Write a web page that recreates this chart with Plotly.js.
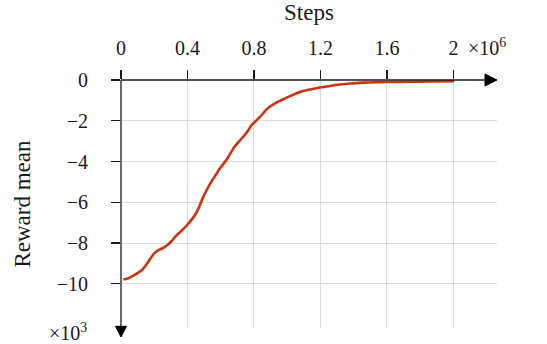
<!DOCTYPE html>
<html>
<head>
<meta charset="utf-8">
<script src="https://cdn.plot.ly/plotly-3.0.1.min.js"></script>
<style>
  html, body { margin: 0; padding: 0; background: #fff; }
  #chart { width: 547px; height: 344px; }
</style>
</head>
<body>
<div id="chart"></div>
<script>
// Training curve: mean episode reward against environment steps
const steps = [
  14000, 44000, 74000, 104000, 130000, 154000, 178000, 198000, 225000, 255000,
  281000, 305000, 331000, 365000, 395000, 425000, 451000, 471000, 491000, 515000,
  539000, 565000, 595000, 626000, 652000, 676000, 700000, 726000, 756000, 786000,
  816000, 846000, 876000, 916000, 966000, 1017000, 1077000, 1137000, 1197000, 1257000,
  1317000, 1377000, 1456000, 1530000, 1598000, 1700000, 1800000, 1900000, 2005000
];
const rewardMean = [
  -9795, -9730, -9600, -9450, -9290, -9040, -8750, -8520, -8350, -8240,
  -8090, -7900, -7650, -7400, -7140, -6850, -6550, -6220, -5810, -5410,
  -5050, -4720, -4340, -4010, -3690, -3360, -3110, -2870, -2590, -2210,
  -1970, -1720, -1440, -1200, -980, -790, -590, -470, -370, -290,
  -220, -170, -130, -110, -100, -90, -80, -70, -60
];

// Tick positions and their scaled labels
const xTickVals = [0, 400000, 800000, 1200000, 1600000, 2000000];
const xTickText = ['0', '0.4', '0.8', '1.2', '1.6', '2'];
const yTickVals = [0, -2000, -4000, -6000, -8000, -10000];
const yTickText = ['0', '\u22122', '\u22124', '\u22126', '\u22128', '\u221210'];

const FONT = '"Liberation Serif"';
const FS = 20;        // tick labels and scale factors
const FS_TITLE = 23;  // axis titles
const INK = '#1a1a1a';

const trace = {
  x: steps,
  y: rewardMean,
  type: 'scatter',
  mode: 'lines',
  line: { color: '#cc3311', width: 2.6, shape: 'spline', smoothing: 0.6 },
  hoverinfo: 'skip'
};

// Plot area spans 376 x 247.7 px; arrowheads are sized in px and converted to paper units
const W = 376, H = 247.7;
const px = v => v / W, py = v => v / H;

const layout = {
  width: 547,
  height: 344,
  margin: { l: 121, r: 50, t: 80, b: 16.3 },
  paper_bgcolor: '#fff',
  plot_bgcolor: '#fff',
  showlegend: false,
  font: { family: FONT, size: FS, color: INK },
  xaxis: {
    side: 'top',
    range: [0, 2262000],
    tickvals: xTickVals,
    ticktext: xTickText,
    tickfont: { family: FONT, size: FS, color: INK },
    ticks: 'outside',
    ticklen: 9,
    tickwidth: 1.2,
    tickcolor: INK,
    ticklabelstandoff: 7,
    showgrid: true,
    gridcolor: '#dcdcdc',
    gridwidth: 1,
    zeroline: false,
    showline: false,
    fixedrange: true,
    title: { text: 'Steps', font: { family: FONT, size: FS_TITLE, color: INK }, standoff: 11 }
  },
  yaxis: {
    range: [-12170, 0],
    tickvals: yTickVals,
    ticktext: yTickText,
    tickfont: { family: FONT, size: FS, color: INK },
    ticks: 'outside',
    ticklen: 9,
    tickwidth: 1.2,
    tickcolor: INK,
    ticklabelstandoff: 19,
    showgrid: true,
    gridcolor: '#dcdcdc',
    gridwidth: 1,
    zeroline: false,
    showline: false,
    fixedrange: true,
    title: { text: 'Reward mean', font: { family: FONT, size: FS_TITLE, color: INK }, standoff: 19 }
  },
  shapes: [
    // horizontal axis with arrowhead
    { type: 'line', xref: 'paper', yref: 'paper', x0: 0, x1: 1 - px(12), y0: 1, y1: 1,
      line: { color: INK, width: 1.3 }, layer: 'above' },
    { type: 'path', xref: 'paper', yref: 'paper',
      path: `M ${1 - px(12)} ${1 + py(6)} L 1 1 L ${1 - px(12)} ${1 - py(6)} Z`,
      fillcolor: '#000', line: { color: '#000', width: 1 }, layer: 'above' },
    // vertical axis pointing down with arrowhead
    { type: 'line', xref: 'paper', yref: 'paper', x0: 0, x1: 0, y0: 1, y1: py(1.7),
      line: { color: INK, width: 1.3 }, layer: 'above' },
    { type: 'path', xref: 'paper', yref: 'paper',
      path: `M ${-px(5.5)} ${py(1.7)} L 0 ${-py(9)} L ${px(5.5)} ${py(1.7)} Z`,
      fillcolor: '#000', line: { color: '#000', width: 1 }, layer: 'above' }
  ],
  annotations: [
    { text: '\u00d710<sup>6</sup>', xref: 'paper', yref: 'paper',
      x: px(487 - 121), y: 1 + py(33), xanchor: 'center', yanchor: 'middle',
      showarrow: false, font: { family: FONT, size: FS, color: INK } },
    { text: '\u00d710<sup>3</sup>', xref: 'paper', yref: 'paper',
      x: -px(121 - 89), y: -py(332 - 327.7), xanchor: 'right', yanchor: 'middle',
      showarrow: false, font: { family: FONT, size: FS, color: INK } }
  ]
};

Plotly.newPlot('chart', [trace], layout, { displayModeBar: false, staticPlot: true });
</script>
</body>
</html>
